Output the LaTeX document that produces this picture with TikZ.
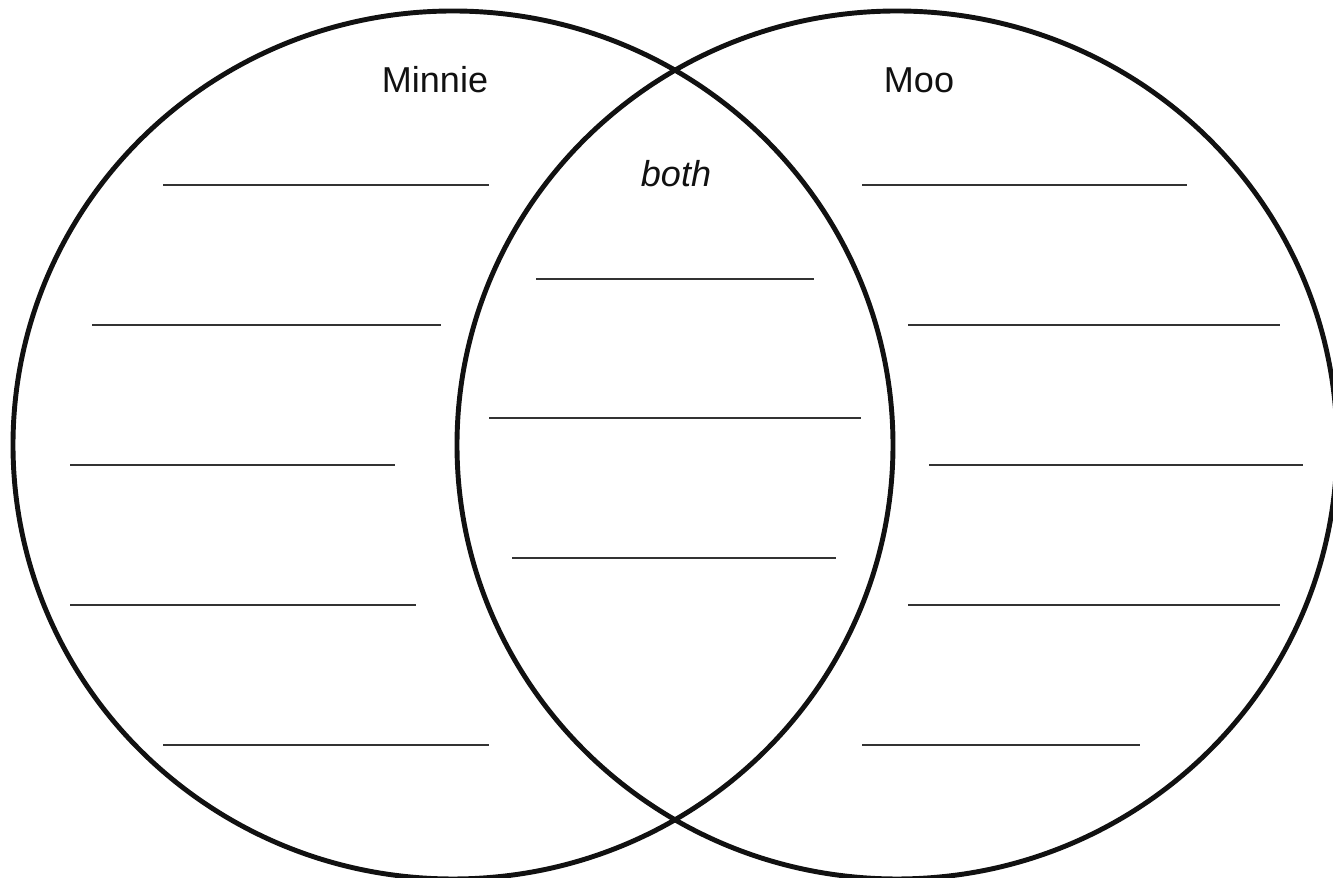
\documentclass[tikz,border=0pt]{standalone}
\usepackage{fontspec}
\setmainfont{Liberation Sans}
\usepackage{tikz}
\definecolor{ink}{HTML}{111111}
\definecolor{rl}{HTML}{333333}
\tikzset{
  ring/.style={draw=ink, line width=2.8pt},
  rule/.style={draw=rl, line width=0.8pt},
  tag/.style={font=\fontsize{20.5}{24}\selectfont, text=ink, inner sep=0pt}
}

\begin{document}
\begin{tikzpicture}
  \useasboundingbox (0,0) rectangle (26.66,17.56);
  % the two sets
  \draw[ring] (9.06,8.66) ellipse [x radius=8.80cm, y radius=8.68cm];
  \draw[ring] (17.94,8.66) ellipse [x radius=8.80cm, y radius=8.68cm];
  % headings
  \node[tag] (minnie) at (8.70,15.96) {Minnie};
  \node[tag] (moo) at (18.38,15.96) {Moo};
  \node[tag, font=\fontsize{20.5}{24}\selectfont\itshape] (both) at (13.52,14.08) {both};
  % writing lines, left set
  \draw[rule] (3.26,13.86) -- (9.78,13.86);
  \draw[rule] (1.84,11.06) -- (8.82,11.06);
  \draw[rule] (1.40,8.26) -- (7.90,8.26);
  \draw[rule] (1.40,5.46) -- (8.32,5.46);
  \draw[rule] (3.26,2.66) -- (9.78,2.66);
  % writing lines, overlap
  \draw[rule] (10.72,11.98) -- (16.28,11.98);
  \draw[rule] (9.78,9.20) -- (17.22,9.20);
  \draw[rule] (10.24,6.40) -- (16.72,6.40);
  % writing lines, right set
  \draw[rule] (17.24,13.86) -- (23.74,13.86);
  \draw[rule] (18.16,11.06) -- (25.60,11.06);
  \draw[rule] (18.58,8.26) -- (26.06,8.26);
  \draw[rule] (18.16,5.46) -- (25.60,5.46);
  \draw[rule] (17.24,2.66) -- (22.80,2.66);
\end{tikzpicture}
\end{document}
